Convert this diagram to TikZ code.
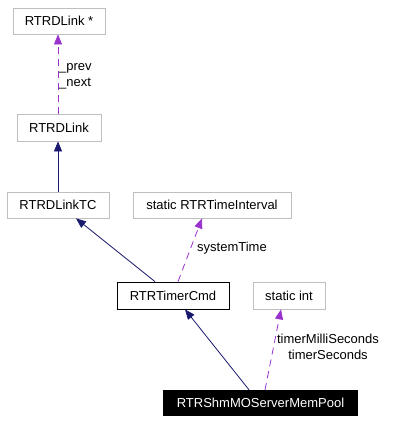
\documentclass[tikz,border=0pt]{standalone}
\usepackage{fontspec}
\setmainfont{Liberation Sans}
\usetikzlibrary{arrows.meta}
\definecolor{edgeblue}{HTML}{191970}
\definecolor{edgepurple}{HTML}{9A32CD}
\definecolor{boxgray}{HTML}{BFBFBF}
\begin{document}
\begin{tikzpicture}[x=1pt,y=-1pt,
  every node/.style={font=\fontsize{13}{16}\selectfont, inner sep=0pt},
  classbox/.style={draw=boxgray, line width=0.8pt, minimum height=26pt},
  mainbox/.style={draw=black, line width=0.8pt, minimum height=27pt},
  thisbox/.style={fill=black, text=white, minimum height=26pt},
  inherit/.style={draw=edgeblue, line width=0.8pt, -{Triangle[length=10pt,width=8pt]}},
  member/.style={draw=edgepurple, line width=0.8pt, dash pattern=on 7pt off 5pt,
    -{Triangle[length=10pt,width=8pt]}}]
  \useasboundingbox (0,0) rectangle (404,423);
  \node[classbox, minimum width=92pt] (DLinkPtr) at (59,21) {RTRDLink *};
  \node[classbox, minimum width=84pt, minimum height=27pt] (DLink) at (59,127.5) {RTRDLink};
  \node[classbox, minimum width=102pt] (DLinkTC) at (58,205) {RTRDLinkTC};
  \node[classbox, minimum width=158pt] (TimeInterval) at (212,205) {static RTRTimeInterval};
  \node[mainbox, minimum width=112pt] (TimerCmd) at (173,295.5) {RTRTimerCmd};
  \node[classbox, minimum width=72pt, minimum height=27pt] (StaticInt) at (289,295.5) {static int};
  \node[thisbox, minimum width=195pt] (MemPool) at (260.5,403) {RTRShmMOServerMemPool};
  % edges
  \draw[member] ([xshift=-1pt]DLink.north) -- ([xshift=-1pt]DLinkPtr.south);
  \draw[inherit] ([xshift=-1pt]DLinkTC.north -| DLink.south) -- ([xshift=-1pt]DLink.south);
  \draw[inherit] ([xshift=-18pt]TimerCmd.north) -- ([xshift=18pt]DLinkTC.south);
  \draw[member] ([xshift=5pt]TimerCmd.north) -- ([xshift=-10pt]TimeInterval.south);
  \draw[inherit] ([xshift=-11.5pt]MemPool.north) -- ([xshift=12pt]TimerCmd.south);
  \draw[member] ([xshift=4.5pt]MemPool.north) -- ([xshift=-8pt]StaticInt.south);
  % labels
  \node[anchor=west, align=left] (LinkLabel) at (59,76) {\_prev\\\_next};
  \node[anchor=west] (TimeLabel) at (197,248) {systemTime};
  \node[align=center] (IntLabel) at (328,347) {timerMilliSeconds\\timerSeconds};
\end{tikzpicture}
\end{document}
